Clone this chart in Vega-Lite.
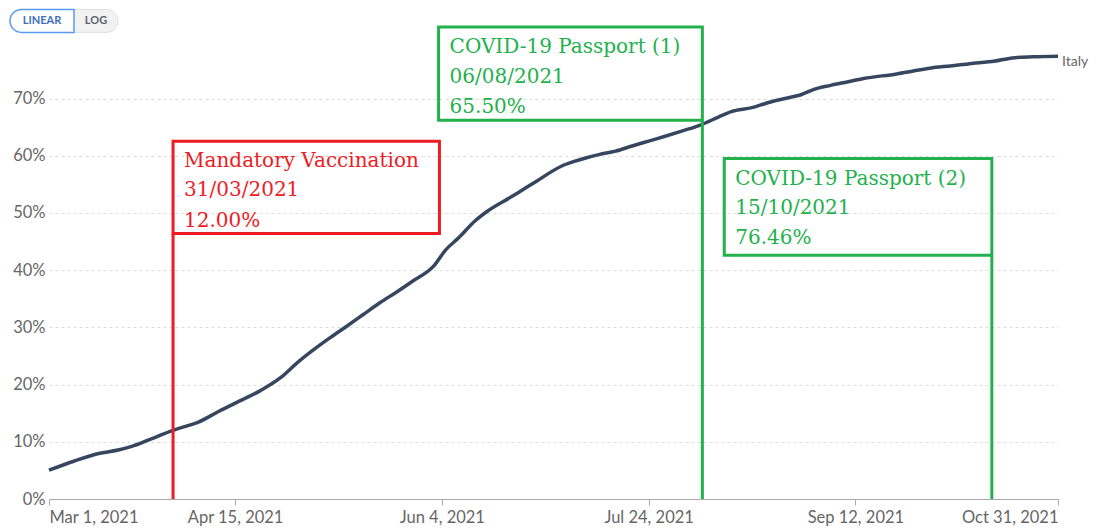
{
  "$schema": "https://vega.github.io/schema/vega-lite/v6.json",
  "width": 1009,
  "height": 472,
  "autosize": {"type": "none"},
  "padding": {"left": 49, "top": 27, "right": 60, "bottom": 29},
  "background": "white",
  "config": {"view": {"stroke": null}, "font": "Lato"},
  "resolve": {"scale": {"color": "independent"}},
  "datasets": {
    "series": [
      {"date": "2021-03-01T00:00", "pct": 5.03},
      {"date": "2021-03-07T00:00", "pct": 6.6},
      {"date": "2021-03-13T00:00", "pct": 7.95},
      {"date": "2021-03-18T00:00", "pct": 8.6},
      {"date": "2021-03-21T00:00", "pct": 9.2},
      {"date": "2021-03-25T00:00", "pct": 10.3},
      {"date": "2021-03-31T00:00", "pct": 12.0},
      {"date": "2021-04-03T00:00", "pct": 12.7},
      {"date": "2021-04-06T00:00", "pct": 13.4},
      {"date": "2021-04-11T00:00", "pct": 15.3},
      {"date": "2021-04-16T00:00", "pct": 17.1},
      {"date": "2021-04-21T00:00", "pct": 18.9},
      {"date": "2021-04-26T00:00", "pct": 21.2},
      {"date": "2021-04-30T00:00", "pct": 23.8},
      {"date": "2021-05-04T00:00", "pct": 26.1},
      {"date": "2021-05-08T00:00", "pct": 28.2},
      {"date": "2021-05-12T00:00", "pct": 30.2},
      {"date": "2021-05-16T00:00", "pct": 32.25},
      {"date": "2021-05-20T00:00", "pct": 34.3},
      {"date": "2021-05-24T00:00", "pct": 36.15},
      {"date": "2021-05-28T00:00", "pct": 38.1},
      {"date": "2021-06-02T00:00", "pct": 40.7},
      {"date": "2021-06-05T00:00", "pct": 43.6},
      {"date": "2021-06-08T00:00", "pct": 45.6},
      {"date": "2021-06-12T00:00", "pct": 48.6},
      {"date": "2021-06-15T00:00", "pct": 50.3},
      {"date": "2021-06-21T00:00", "pct": 52.9},
      {"date": "2021-06-23T00:00", "pct": 53.8},
      {"date": "2021-06-27T00:00", "pct": 55.6},
      {"date": "2021-07-03T00:00", "pct": 58.2},
      {"date": "2021-07-06T00:00", "pct": 59.0},
      {"date": "2021-07-09T00:00", "pct": 59.65},
      {"date": "2021-07-12T00:00", "pct": 60.2},
      {"date": "2021-07-16T00:00", "pct": 60.8},
      {"date": "2021-07-20T00:00", "pct": 61.7},
      {"date": "2021-07-24T00:00", "pct": 62.55},
      {"date": "2021-07-28T00:00", "pct": 63.4},
      {"date": "2021-08-01T00:00", "pct": 64.3},
      {"date": "2021-08-06T00:00", "pct": 65.5},
      {"date": "2021-08-10T00:00", "pct": 66.8},
      {"date": "2021-08-13T00:00", "pct": 67.7},
      {"date": "2021-08-18T00:00", "pct": 68.4},
      {"date": "2021-08-22T00:00", "pct": 69.3},
      {"date": "2021-08-26T00:00", "pct": 70.0},
      {"date": "2021-08-30T00:00", "pct": 70.7},
      {"date": "2021-09-02T00:00", "pct": 71.6},
      {"date": "2021-09-06T00:00", "pct": 72.3},
      {"date": "2021-09-10T00:00", "pct": 72.9},
      {"date": "2021-09-14T00:00", "pct": 73.5},
      {"date": "2021-09-22T00:00", "pct": 74.3},
      {"date": "2021-09-26T00:00", "pct": 74.8},
      {"date": "2021-09-30T00:00", "pct": 75.3},
      {"date": "2021-10-05T00:00", "pct": 75.7},
      {"date": "2021-10-12T00:00", "pct": 76.26},
      {"date": "2021-10-15T00:00", "pct": 76.46},
      {"date": "2021-10-20T00:00", "pct": 77.1},
      {"date": "2021-10-25T00:00", "pct": 77.3},
      {"date": "2021-10-31T00:00", "pct": 77.4}
    ],
    "boxes": [
      {"event": "mandatory", "date": "2021-03-31T00:00", "date2": "2021-06-03T10:00", "pct": 46.4, "pct2": 62.55},
      {"event": "pass1", "date": "2021-06-03T05:00", "date2": "2021-08-06T00:00", "pct": 66.2, "pct2": 82.5},
      {"event": "pass2", "date": "2021-08-11T07:00", "date2": "2021-10-15T00:00", "pct": 42.6, "pct2": 59.5}
    ],
    "rules": [
      {"event": "mandatory", "date": "2021-03-31T00:00", "pct": 0, "pct2": 46.4},
      {"event": "pass1", "date": "2021-08-06T00:00", "pct": 0, "pct2": 66.2},
      {"event": "pass2", "date": "2021-10-15T00:00", "pct": 0, "pct2": 42.6}
    ],
    "labels": [
      {"event": "mandatory", "date": "2021-03-31T00:00", "pct": 58.05, "text": "Mandatory Vaccination"},
      {"event": "mandatory", "date": "2021-03-31T00:00", "pct": 52.9, "text": "31/03/2021"},
      {"event": "mandatory", "date": "2021-03-31T00:00", "pct": 47.6, "text": "12.00%"},
      {"event": "pass1", "date": "2021-06-03T05:00", "pct": 78.0, "text": "COVID-19 Passport (1)"},
      {"event": "pass1", "date": "2021-06-03T05:00", "pct": 72.76, "text": "06/08/2021"},
      {"event": "pass1", "date": "2021-06-03T05:00", "pct": 67.52, "text": "65.50%"},
      {"event": "pass2", "date": "2021-08-11T07:00", "pct": 54.93, "text": "COVID-19 Passport (2)"},
      {"event": "pass2", "date": "2021-08-11T07:00", "pct": 49.74, "text": "15/10/2021"},
      {"event": "pass2", "date": "2021-08-11T07:00", "pct": 44.5, "text": "76.46%"}
    ],
    "endlabel": [
      {"date": "2021-10-31T00:00", "pct": 77.4, "text": "Italy"}
    ],
    "toggle_bg": [
      {"date": "2021-02-19T13:40", "date2": "2021-03-17T16:30", "pct": 81.56, "pct2": 85.58}
    ],
    "toggle_on": [
      {"date": "2021-02-19T13:40", "date2": "2021-03-07T01:10", "pct": 81.56, "pct2": 85.58}
    ],
    "toggle_text": [
      {"date": "2021-02-27T07:25", "pct": 83.6, "text": "LINEAR", "state": "on"},
      {"date": "2021-03-12T08:50", "pct": 83.6, "text": "LOG", "state": "off"}
    ]
  },
  "encoding": {
    "x": {
      "field": "date",
      "type": "temporal",
      "scale": {"domain": [{"year": 2021, "month": 3, "date": 1}, {"year": 2021, "month": 10, "date": 31}]},
      "axis": {
        "title": null,
        "grid": false,
        "values": [
          {"year": 2021, "month": 3, "date": 1},
          {"year": 2021, "month": 4, "date": 15},
          {"year": 2021, "month": 6, "date": 4},
          {"year": 2021, "month": 7, "date": 24},
          {"year": 2021, "month": 9, "date": 12},
          {"year": 2021, "month": 10, "date": 31}
        ],
        "format": "%b %-d, %Y",
        "labelFlush": true,
        "labelFont": "Lato",
        "labelFontSize": 16.5,
        "labelColor": "#666666",
        "labelPadding": 4,
        "domainColor": "#aaaaaa",
        "tickColor": "#aaaaaa",
        "tickSize": 6
      }
    },
    "y": {
      "field": "pct",
      "type": "quantitative",
      "scale": {"domain": [0, 82.5], "nice": false, "zero": true},
      "axis": {
        "title": null,
        "values": [0, 10, 20, 30, 40, 50, 60, 70],
        "labelExpr": "datum.value + '%'",
        "domain": false,
        "ticks": false,
        "grid": true,
        "gridColor": "#dddddd",
        "gridDash": [3, 3],
        "labelFont": "Lato",
        "labelFontSize": 16.5,
        "labelColor": "#666666",
        "labelPadding": 4
      }
    }
  },
  "layer": [
    {
      "data": {"name": "series"},
      "mark": {"type": "line", "color": "#37465f", "strokeWidth": 3.5, "interpolate": "monotone"}
    },
    {
      "data": {"name": "endlabel"},
      "mark": {"type": "text", "align": "left", "baseline": "middle", "dx": 4, "dy": 6, "font": "Lato", "fontSize": 14, "color": "#666666"},
      "encoding": {"text": {"field": "text"}}
    },
    {
      "data": {"name": "rules"},
      "mark": {"type": "rule", "strokeWidth": 3},
      "encoding": {
        "y2": {"field": "pct2"},
        "color": {"field": "event", "type": "nominal", "scale": {"domain": ["mandatory", "pass1", "pass2"], "range": ["#ed1c24", "#22b14c", "#22b14c"]}, "legend": null}
      }
    },
    {
      "data": {"name": "boxes"},
      "mark": {"type": "rect", "filled": false, "strokeWidth": 3},
      "encoding": {
        "x2": {"field": "date2"},
        "y2": {"field": "pct2"},
        "color": {"field": "event", "type": "nominal", "scale": {"domain": ["mandatory", "pass1", "pass2"], "range": ["#ed1c24", "#22b14c", "#22b14c"]}, "legend": null}
      }
    },
    {
      "data": {"name": "labels"},
      "mark": {"type": "text", "align": "left", "baseline": "alphabetic", "dx": 11, "font": "DejaVu Serif", "fontSize": 20},
      "encoding": {
        "text": {"field": "text"},
        "color": {"field": "event", "type": "nominal", "scale": {"domain": ["mandatory", "pass1", "pass2"], "range": ["#ed1c24", "#22b14c", "#22b14c"]}, "legend": null}
      }
    },
    {
      "data": {"name": "toggle_bg"},
      "mark": {"type": "rect", "fill": "#f2f2f2", "stroke": "#e0e0e0", "strokeWidth": 1, "cornerRadius": 11.5},
      "encoding": {"x2": {"field": "date2"}, "y2": {"field": "pct2"}}
    },
    {
      "data": {"name": "toggle_on"},
      "mark": {"type": "rect", "fill": "white", "stroke": "#5a9bf0", "strokeWidth": 1.5, "cornerRadiusTopLeft": 11.5, "cornerRadiusBottomLeft": 11.5},
      "encoding": {"x2": {"field": "date2"}, "y2": {"field": "pct2"}}
    },
    {
      "data": {"name": "toggle_text"},
      "mark": {"type": "text", "align": "center", "baseline": "middle", "font": "Lato", "fontSize": 11, "fontWeight": "bold"},
      "encoding": {
        "text": {"field": "text"},
        "color": {"field": "state", "type": "nominal", "scale": {"domain": ["on", "off"], "range": ["#3d6fc0", "#5b6470"]}, "legend": null}
      }
    }
  ]
}
